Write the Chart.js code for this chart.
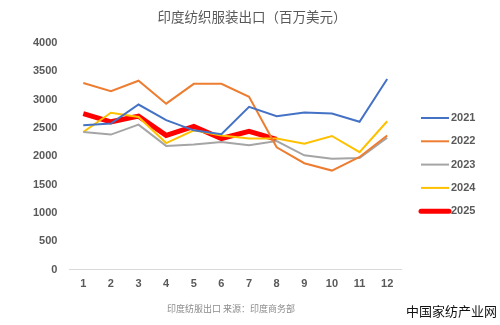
<!DOCTYPE html>
<html>
<head>
<meta charset="utf-8">
<script src="https://cdn.jsdelivr.net/npm/chart.js@4/dist/chart.umd.min.js"></script>
<style>
  body { margin: 0; background: #fff; }
  #wrap { position: relative; width: 500px; height: 325px; }
</style>
</head>
<body>
<div id="wrap"><canvas id="myChart"></canvas></div>
<script>
const months = ["1", "2", "3", "4", "5", "6", "7", "8", "9", "10", "11", "12"];
const yTicks = [0, 500, 1000, 1500, 2000, 2500, 3000, 3500, 4000];

const y2021 = [2550, 2580, 2915, 2640, 2460, 2390, 2875, 2710, 2775, 2755, 2610, 3365];
const y2022 = [3295, 3150, 3335, 2930, 3280, 3280, 3050, 2160, 1880, 1750, 1990, 2370];
const y2023 = [2430, 2385, 2560, 2185, 2210, 2255, 2195, 2270, 2020, 1960, 1970, 2330];
const y2024 = [2430, 2770, 2695, 2235, 2460, 2370, 2315, 2315, 2225, 2360, 2075, 2620];
const y2025 = [2755, 2610, 2710, 2370, 2530, 2315, 2440, 2300];

const textColor = "#595959";
const tickFont = "'Liberation Sans', Arial";
const ctx = document.getElementById("myChart").getContext("2d");

// title, legend, caption and site mark are drawn by hand so they sit
// where the original ones do (the chart area is pushed left by the legend)
const extras = {
  id: "extras",
  afterDraw(chart) {
    const c = chart.ctx;
    c.save();
    c.textBaseline = "middle";

    c.textAlign = "center";
    c.fillStyle = textColor;
    c.font = "13.5px 'Noto Sans CJK SC'";
    c.fillText("印度纺织服装出口（百万美元）", 252, 17);

    c.textAlign = "left";
    c.font = "bold 11px " + tickFont;
    chart.data.datasets.forEach(function (ds, i) {
      const y = 118 + i * 23.3;
      c.strokeStyle = ds.borderColor;
      c.lineWidth = ds.borderWidth;
      c.lineCap = ds.borderWidth > 3 ? "round" : "butt";
      c.beginPath();
      c.moveTo(421, y);
      c.lineTo(449, y);
      c.stroke();
      c.fillStyle = textColor;
      c.fillText(ds.label, 451, y);
    });

    c.fillStyle = "#8c8c8c";
    c.font = "9px 'Noto Sans CJK SC'";
    c.textAlign = "center";
    c.fillText("印度纺服出口 来源：印度商务部", 231, 309);
    c.fillStyle = "#111";
    c.font = "13px 'Noto Sans CJK SC'";
    c.textAlign = "right";
    c.fillText("中国家纺产业网", 497, 311);
    c.restore();
  },
};

function line(label, data, color, width) {
  return {
    label: label,
    data: data,
    borderColor: color,
    backgroundColor: color,
    borderWidth: width,
    pointRadius: 0,
    tension: 0,
    fill: false,
  };
}

new Chart(ctx, {
  type: "line",
  data: {
    labels: months,
    datasets: [
      line("2021", y2021, "#4472c4", 2),
      line("2022", y2022, "#ed7d31", 2),
      line("2023", y2023, "#a5a5a5", 2),
      line("2024", y2024, "#ffc000", 2),
      line("2025", y2025, "#ff0000", 5),
    ],
  },
  options: {
    responsive: true,
    maintainAspectRatio: false,
    animation: false,
    layout: {
      padding: { left: 21, right: 99, top: 43, bottom: 26 },
    },
    scales: {
      x: {
        offset: true,
        grid: { display: false, drawTicks: false },
        border: { color: "#d9d9d9", width: 1 },
        ticks: {
          color: textColor,
          padding: 8,
          font: { size: 11, weight: "bold", family: tickFont },
        },
      },
      y: {
        min: 0,
        max: 4000,
        afterBuildTicks: (axis) => {
          axis.ticks = yTicks.map((v) => ({ value: v }));
        },
        grid: { display: false, drawTicks: false },
        border: { display: false },
        ticks: {
          color: textColor,
          padding: 12,
          font: { size: 11, weight: "bold", family: tickFont },
          callback: (value) => String(value),
        },
      },
    },
    plugins: {
      title: { display: false },
      legend: { display: false },
      tooltip: { enabled: false },
    },
  },
  plugins: [extras],
});
</script>
</body>
</html>
